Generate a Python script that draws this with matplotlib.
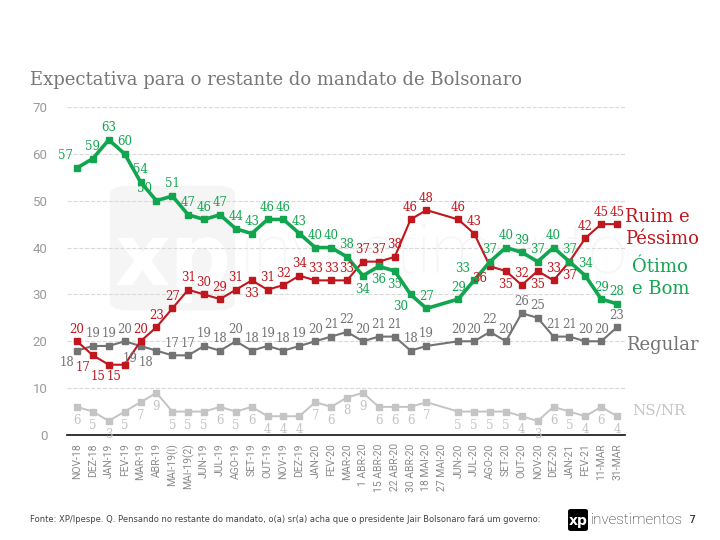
import matplotlib
matplotlib.use('Agg')

import matplotlib.pyplot as plt
from matplotlib.patches import FancyBboxPatch

# Survey rounds (27 MAI-20 has no data point)
periods = ['NOV-18', 'DEZ-18', 'JAN-19', 'FEV-19', 'MAR-19', 'ABR-19', 'MAI-19(I)', 'MAI-19(2)',
           'JUN-19', 'JUL-19', 'AGO-19', 'SET-19', 'OUT-19', 'NOV-19', 'DEZ-19', 'JAN-20',
           'FEV-20', 'MAR-20', '1 ABR-20', '15 ABR-20', '22 ABR-20', '30 ABR-20', '18 MAI-20',
           '27 MAI-20', 'JUN-20', 'JUL-20', 'AGO-20', 'SET-20', 'OUT-20', 'NOV-20', 'DEZ-20',
           'JAN-21', 'FEV-21', '11-MAR', '31-MAR']

otimo_bom = [57, 59, 63, 60, 54, 50, 51, 47, 46, 47, 44, 43, 46, 46, 43, 40, 40, 38, 34, 36,
             35, 30, 27, None, 29, 33, 37, 40, 39, 37, 40, 37, 34, 29, 28]
ruim_pessimo = [20, 17, 15, 15, 20, 23, 27, 31, 30, 29, 31, 33, 31, 32, 34, 33, 33, 33, 37, 37,
                38, 46, 48, None, 46, 43, 36, 35, 32, 35, 33, 37, 42, 45, 45]
regular = [18, 19, 19, 20, 19, 18, 17, 17, 19, 18, 20, 18, 19, 18, 19, 20, 21, 22, 20, 21,
           21, 18, 19, None, 20, 20, 22, 20, 26, 25, 21, 21, 20, 20, 23]
ns_nr = [6, 5, 3, 5, 7, 9, 5, 5, 5, 6, 5, 6, 4, 4, 4, 7, 6, 8, 9, 6,
         6, 6, 7, None, 5, 5, 5, 5, 4, 3, 6, 5, 4, 6, 4]

# where each value label sits relative to its point
pos_green = ['ul', 'u', 'u', 'u', 'u', 'ul', 'u', 'u', 'u', 'u', 'u', 'u', 'u', 'u', 'u', 'u', 'u', 'u',
             'd', 'd', 'd', 'dl', 'u', '', 'u', 'ul', 'u', 'u', 'u', 'u', 'u', 'u', 'u', 'u', 'u']
pos_red = ['u', 'dl', 'dl', 'dl', 'u', 'u', 'u', 'u', 'u', 'u', 'u', 'd', 'u', 'u', 'u', 'u', 'u', 'u',
           'u', 'u', 'u', 'u', 'u', '', 'u', 'u', 'dl', 'd', 'u', 'd', 'u', 'd', 'u', 'u', 'u']
pos_reg = ['dl', 'u', 'u', 'u', 'dl', 'dl'] + ['u'] * 29
pos_ns = ['d'] * 35

GREEN = '#12a550'
RED = '#c0161d'
GRAY = '#737373'
LIGHT = '#c4c4c4'

offsets = {
    'u': ((0, 4), 'center', 'bottom'),
    'd': ((0, -5), 'center', 'top'),
    'ul': ((-3, 4), 'right', 'bottom'),
    'dl': ((-2, -4), 'right', 'top'),
}

fig = plt.figure(figsize=(7.2, 5.4), dpi=100)
ax = fig.add_axes([67 / 720, 1 - 435 / 540, (625 - 67) / 720, (435 - 107) / 540])

x = list(range(len(periods)))

# very faint watermark behind the data
ax.add_patch(FancyBboxPatch((0.077, 0.38), 0.224, 0.38, boxstyle='round,pad=0,rounding_size=0.03',
                            transform=ax.transAxes, facecolor='#f5f5f5', edgecolor='none', zorder=0))
ax.text(0.19, 0.53, 'xp', transform=ax.transAxes, fontsize=62, fontweight='bold', color='white',
        ha='center', va='center', zorder=0)
ax.text(0.31, 0.55, 'investimentos', transform=ax.transAxes, fontsize=50, color='#f6f6f6',
        ha='left', va='center', family='Roboto', fontweight='light', zorder=0, clip_on=True)

series = [
    (ns_nr, LIGHT, 1.4, pos_ns),
    (regular, GRAY, 1.5, pos_reg),
    (ruim_pessimo, RED, 1.5, pos_red),
    (otimo_bom, GREEN, 2.6, pos_green),
]

for vals, col, lw, pos in series:
    xs = [i for i, v in zip(x, vals) if v is not None]
    ys = [v for v in vals if v is not None]
    ax.plot(xs, ys, color=col, lw=lw, marker='s', ms=5, zorder=3, clip_on=False)
    for i, v in zip(xs, ys):
        off, ha, va = offsets[pos[i]]
        ax.annotate(str(v), (i, v), xytext=off, textcoords='offset points', ha=ha, va=va,
                    fontsize=8.5, color=col, family='DejaVu Serif', zorder=4)

ax.set_xlim(-0.63, 34.5)
ax.set_ylim(0, 70)
ax.set_yticks(range(0, 71, 10))
ax.set_xticks(x)
ax.set_xticklabels(periods, rotation=90, fontsize=7.5, color='#8a8a8a', family='Roboto')
ax.tick_params(axis='y', length=0, pad=14, labelsize=9.5, labelcolor='#9a9a9a')
ax.tick_params(axis='x', length=0, pad=6)
for lbl in ax.get_yticklabels():
    lbl.set_family('Roboto')

ax.grid(axis='y', linestyle='--', color='#d9d9d9', lw=0.8, zorder=1)
for s in ['top', 'right', 'left']:
    ax.spines[s].set_visible(False)
ax.spines['bottom'].set_color('#111111')
ax.spines['bottom'].set_linewidth(1.2)

fig.text(30 / 720, 1 - 80 / 540, 'Expectativa para o restante do mandato de Bolsonaro',
         fontsize=13, color='#777777', family='DejaVu Serif', va='center', ha='left')

# series names at the right edge
fig.text(625 / 720, 1 - 228 / 540, 'Ruim e\nPéssimo', fontsize=13, color=RED,
         family='DejaVu Serif', va='center', ha='left', linespacing=1.3)
fig.text(632 / 720, 1 - 278 / 540, 'Ótimo\ne Bom', fontsize=13, color=GREEN,
         family='DejaVu Serif', va='center', ha='left', linespacing=1.3)
fig.text(626 / 720, 1 - 345 / 540, 'Regular', fontsize=13, color=GRAY,
         family='DejaVu Serif', va='center', ha='left')
fig.text(632 / 720, 1 - 410 / 540, 'NS/NR', fontsize=11, color=LIGHT,
         family='DejaVu Serif', va='center', ha='left')

# footer
fig.text(30 / 720, 1 - 520 / 540,
         'Fonte: XP/Ipespe. Q. Pensando no restante do mandato, o(a) sr(a) acha que o presidente '
         'Jair Bolsonaro fará um governo:', fontsize=6, color='#444444', va='center', ha='left')
fig.patches.append(FancyBboxPatch((568 / 720, 1 - 531 / 540), 20 / 720, 22 / 540,
                                  boxstyle='round,pad=0,rounding_size=0.004', transform=fig.transFigure,
                                  facecolor='black', edgecolor='none'))
fig.text(578 / 720, 1 - 521 / 540, 'xp', fontsize=10, fontweight='bold', color='white',
         ha='center', va='center')
fig.text(591 / 720, 1 - 520 / 540, 'investimentos', fontsize=11, color='#222222',
         ha='left', va='center', family='Roboto', fontweight='light')
fig.text(692 / 720, 1 - 520 / 540, '7', fontsize=8, color='#222222', ha='center', va='center')

fig.savefig('out.png', dpi=100)
plt.close(fig)
